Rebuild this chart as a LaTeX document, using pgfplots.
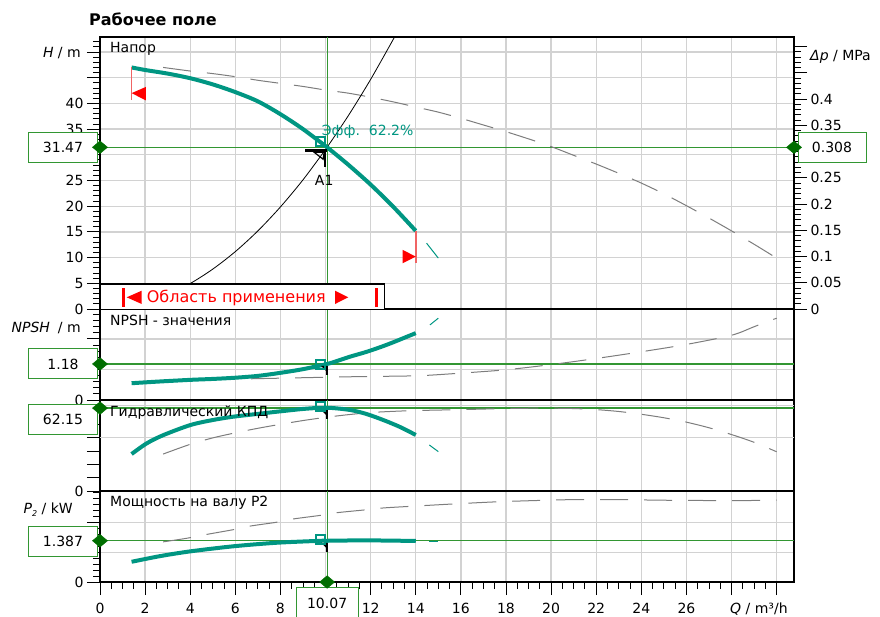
\documentclass[border=0pt]{standalone}
\usepackage{pgfplots}
\pgfplotsset{compat=1.18}
\usepackage{fontspec}
\setmainfont{DejaVu Sans}

\definecolor{teal2}{RGB}{0,150,130}
\definecolor{gridc}{RGB}{210,210,210}
\definecolor{opgreen}{RGB}{50,150,50}
\definecolor{diag}{RGB}{0,110,0}
\definecolor{dgray}{RGB}{125,125,125}
\definecolor{redline}{RGB}{240,100,100}

\newcommand{\fs}[1]{\fontsize{#1}{#1}\selectfont}

\tikzset{
  vbox/.style={draw=opgreen, fill=white, line width=1pt, minimum width=68pt,
    minimum height=30pt, inner sep=0pt, font=\fs{14}},
}

\pgfplotsset{
  panel/.style={
    scale only axis, width=694pt, xmin=0, xmax=30.77, clip=false,
    axis line style={line width=1.2pt},
    tick style={black, line width=0.9pt},
    tick align=outside, major tick length=13pt, minor tick length=7pt,
    xtick={0,2,...,30}, xmajorgrids, ymajorgrids,
    major grid style={line width=1.3pt, gridc},
    ytick pos=left,
    tick label style={font=\fs{14}},
    /pgf/number format/assume math mode=true,
  },
  noxt/.style={xticklabels={}, xtick style={draw=none}},
  tealc/.style={teal2, line width=4pt, smooth},
  tealthin/.style={teal2, line width=1pt},
  dashgray/.style={dgray, line width=1pt, smooth, dash pattern=on 28pt off 16pt},
  opline/.style={opgreen, line width=1.2pt},
  dia/.style={only marks, mark=diamond*, mark size=6.3pt,
    mark options={xscale=1.6, fill=diag, draw=diag}},
  sq/.style={only marks, mark=square, mark size=4.6pt,
    mark options={teal2, line width=2pt}},
}

% small black operating-point marker
\newcommand{\opmark}[2]{%
  \fill[black] ([xshift=-6pt,yshift=-2pt]axis cs:#1,#2) -- ([xshift=0pt,yshift=-2pt]axis cs:#1,#2)
     -- ([xshift=0pt,yshift=-8pt]axis cs:#1,#2) -- cycle;
  \draw[black, line width=1.5pt] ([xshift=0pt,yshift=-2pt]axis cs:#1,#2) -- ([xshift=0pt,yshift=-11pt]axis cs:#1,#2);}

\begin{document}
\begin{tikzpicture}
\useasboundingbox (0,0) rectangle (880pt,-616pt);

% ---------- Напор ----------
\begin{axis}[panel, noxt, at={(100pt,-37pt)}, anchor=north west, height=272pt,
  ymin=0, ymax=52.92, ytick={0,5,...,50}, minor ytick={1,2,...,52},
  yticklabels={0,5,10,15,20,25,,35,40,,}]
\addplot[opline] coordinates {(0,31.47) (30.77,31.47)};
\addplot[opline] coordinates {(10.07,0) (10.07,52.92)};
\addplot[dashgray] coordinates {
  (2.8,47.0) (4,46.3) (5,45.8) (6,45.2) (7,44.5) (8,43.9) (9,43.3) (10,42.6)
  (11,42.0) (12,41.2) (13,40.3) (14,39.3) (15,38.3) (16,37.1) (17,35.8)
  (18,34.5) (19,33.1) (20,31.6) (21,29.9) (22,28.2) (23,26.4) (24,24.5)
  (25,22.4) (26,20.1) (27,17.7) (28,15.2) (29,12.6) (30,9.9)};
\addplot[black, line width=0.8pt, smooth] coordinates {
  (0,0) (1,0.31) (2,1.24) (3,2.79) (4,4.96) (5,7.76) (6,11.17) (7,15.2)
  (8,19.86) (9,25.13) (10,31.03) (10.07,31.47) (11,37.55) (12,44.68) (13.06,52.92)};
\addplot[tealc] coordinates {
  (1.4,47.0) (2,46.5) (3,45.8) (4,44.9) (5,43.7) (6,42.2) (7,40.4) (8,37.9)
  (9,35.0) (10,31.7) (10.07,31.47) (11,28.1) (12,24.2) (13,19.9) (14,15.2)};
\addplot[tealthin] coordinates {(14.48,12.8) (15.0,9.9)};
\addplot[redline, line width=1.8pt] coordinates {(1.4,47.0) (1.4,40.7)};
\addplot[red, fill=red, draw=none] coordinates {(1.4,42.0) (2.03,43.2) (2.03,40.6)} -- cycle;
\addplot[redline, line width=1.8pt] coordinates {(14.0,15.2) (14.0,8.9)};
\addplot[red, fill=red, draw=none] coordinates {(14.0,10.2) (13.42,11.5) (13.42,8.9)} -- cycle;
\addplot[sq] coordinates {(9.78,32.6)};
\draw[black, line width=2.5pt] ([xshift=-22pt,yshift=-3pt]axis cs:10.07,31.47)
   -- ([xshift=0pt,yshift=-3pt]axis cs:10.07,31.47);
\draw[black, line width=2.5pt] ([xshift=-2pt,yshift=-2pt]axis cs:10.07,31.47)
   -- ([xshift=-2pt,yshift=-20pt]axis cs:10.07,31.47);
\draw[black, line width=1.2pt] ([xshift=-13pt,yshift=-5pt]axis cs:10.07,31.47)
   -- ([xshift=-3pt,yshift=-5pt]axis cs:10.07,31.47)
   -- ([xshift=-4pt,yshift=-12pt]axis cs:10.07,31.47) -- cycle;
\node[anchor=west, text=teal2, font=\fs{14}, inner sep=0pt] at (axis cs:9.83,34.4) {Эфф.\ \ 62.2\%};
\node[font=\fs{14}, inner sep=0pt] at (axis cs:9.94,25.0) {A1};
\node[vbox] at ([xshift=-37pt]axis cs:0,31.47) {31.47};
\addplot[dia] coordinates {(0,31.47)};
\end{axis}

% ---------- Δp (right scale) ----------
\begin{axis}[scale only axis, width=694pt, height=272pt, at={(100pt,-37pt)},
  anchor=north west, xmin=0, xmax=30.77, ymin=0, ymax=0.5181, clip=false,
  axis x line=none, axis y line*=right, axis line style={line width=1.2pt},
  tick style={black, line width=0.9pt}, tick align=outside,
  major tick length=13pt, minor tick length=7pt,
  ytick={0,0.05,0.1,0.15,0.2,0.25,0.3,0.35,0.4,0.45,0.5}, minor y tick num=4,
  yticklabels={0,0.05,0.1,0.15,0.2,0.25,,0.35,0.4,,},
  tick label style={font=\fs{14}}]
\node[vbox] at ([xshift=38pt]axis cs:30.77,0.308) {0.308};
\addplot[dia] coordinates {(30.77,0.308)};
\end{axis}

% ---------- NPSH ----------
\begin{axis}[panel, noxt, at={(100pt,-309pt)}, anchor=north west, height=91pt,
  ymin=0, ymax=2.98, ytick={0,1,2},
  minor ytick={0.2,0.4,0.6,0.8,1.2,1.4,1.6,1.8,2.2,2.4,2.6,2.8},
  yticklabels={0,,}]
\addplot[opline] coordinates {(0,1.18) (30.77,1.18)};
\addplot[opline] coordinates {(10.07,0) (10.07,2.98)};
\addplot[dashgray] coordinates {
  (2.8,0.65) (5,0.67) (7,0.70) (9,0.73) (11,0.76) (13,0.78) (14.3,0.80)
  (16,0.88) (18,0.99) (20,1.16) (22,1.36) (24,1.58) (26,1.82) (28,2.12)
  (29,2.40) (30,2.68)};
\addplot[tealc] coordinates {
  (1.4,0.55) (2.5,0.60) (4,0.66) (5,0.69) (6,0.73) (7,0.79) (8,0.89) (9,1.01)
  (10.07,1.18) (10.6,1.30) (11.09,1.42) (11.83,1.58) (12.5,1.75) (13,1.89)
  (13.5,2.04) (14,2.19)};
\addplot[tealthin] coordinates {(14.63,2.46) (15.0,2.68)};
\addplot[sq] coordinates {(9.78,1.15)};
\opmark{10.07}{1.18}
\node[vbox] at ([xshift=-37pt]axis cs:0,1.18) {1.18};
\addplot[dia] coordinates {(0,1.18)};
\end{axis}

% ---------- КПД ----------
\begin{axis}[panel, noxt, at={(100pt,-400pt)}, anchor=north west, height=91pt,
  ymin=0, ymax=68.2, ytick={0,10,...,60}, ymajorgrids=false,
  yticklabels={0,,,,,,}]
\addplot[gridc, line width=1.3pt] coordinates {(0,40) (30.77,40)};
\addplot[gridc, line width=1.3pt] coordinates {(0,64) (30.77,64)};
\addplot[opline] coordinates {(0,62.15) (30.77,62.15)};
\addplot[opline] coordinates {(10.07,0) (10.07,68.2)};
\addplot[dashgray] coordinates {
  (2.8,27.7) (4,35.0) (5,39.8) (6,43.6) (7,47.0) (8,50.0) (9,52.8) (10,55.2)
  (11,57.2) (12,58.8) (13,59.7) (14,60.3) (16,61.0) (18,61.8) (19.7,62.1)
  (21,61.8) (22,61.0) (23,59.6) (24,57.5) (25,54.9) (26,51.6) (27,47.4)
  (28,42.3) (29,36.5) (30,29.4)};
\addplot[tealc] coordinates {
  (1.4,27.7) (2.07,35.7) (2.81,41.9) (4,49.4) (5,53.2) (5.91,55.7) (7,57.8)
  (7.83,59.4) (9,61.5) (9.76,62.3) (10.3,62.2) (11.1,60.7) (11.8,57.8)
  (12.56,53.2) (13.3,48.0) (14.0,42.0)};
\addplot[tealthin] coordinates {(14.6,34.5) (15.0,29.5)};
\addplot[sq] coordinates {(9.78,63.4)};
\opmark{10.07}{62.15}
\node[vbox] at ([xshift=-37pt,yshift=-11pt]axis cs:0,62.15) {62.15};
\addplot[dia] coordinates {(0,62.15)};
\end{axis}

% ---------- Мощность P2 ----------
\begin{axis}[panel, at={(100pt,-491pt)}, anchor=north west, height=91pt,
  ymin=0, ymax=3.06, ytick={0,1,2},
  minor ytick={0.2,0.4,0.6,0.8,1.2,1.4,1.6,1.8,2.2,2.4,2.6,2.8,3.0},
  yticklabels={0,,}, xtick pos=left, minor x tick num=3,
  xticklabels={0,2,4,6,8,,12,14,16,18,20,22,24,26,,},
  xticklabel style={yshift=-5pt}]
\addplot[opline] coordinates {(0,1.387) (30.77,1.387)};
\addplot[opline] coordinates {(10.07,0) (10.07,3.06)};
\addplot[dashgray] coordinates {
  (2.8,1.35) (3.84,1.47) (4.73,1.60) (5.91,1.76) (6.65,1.88) (7.83,2.01)
  (8.57,2.12) (9.76,2.24) (10.5,2.33) (11.68,2.42) (12.56,2.49) (13.9,2.55)
  (15.8,2.63) (17.7,2.70) (19.8,2.75) (21,2.77) (23,2.77) (25,2.75)
  (27,2.74) (28.7,2.74) (30,2.75)};
\addplot[tealc] coordinates {
  (1.4,0.68) (2.66,0.87) (4,1.03) (5.9,1.20) (7.83,1.32) (9.76,1.385)
  (10.07,1.387) (11.8,1.40) (14.0,1.38)};
\addplot[tealthin] coordinates {(14.6,1.37) (15.0,1.37)};
\addplot[sq] coordinates {(9.78,1.42)};
\opmark{10.07}{1.387}
\node[vbox] at ([xshift=-37pt,yshift=-1pt]axis cs:0,1.387) {1.387};
\addplot[dia] coordinates {(0,1.387)};
\node[vbox, minimum width=62pt, minimum height=34pt, anchor=north]
  at ([yshift=-5pt]axis cs:10.07,0) {};
\node[font=\fs{14}] at ([yshift=-21pt]axis cs:10.07,0) {10.07};
\addplot[dia] coordinates {(10.07,0)};
\end{axis}

% ---------- titles and labels ----------
\node[anchor=base west, font=\bfseries\fs{16}, inner sep=0pt] at (89pt,-25.5pt) {Рабочее поле};
\node[anchor=east, font=\fs{14}, inner sep=0pt] at (81pt,-53pt) {\textit{H} / m};
\node[anchor=east, font=\fs{14}, inner sep=0pt] at (81pt,-328pt) {\textit{NPSH}\hspace{8pt}/ m};
\node[anchor=east, font=\fs{14}, inner sep=0pt] at (73pt,-510pt)
  {\textit{P}\raisebox{-3pt}{\fs{8}\textit{2}} / kW};
\node[anchor=west, font=\fs{14}, inner sep=0pt] at (810pt,-57pt) {\textit{Δp} / MPa};
\node[anchor=west, font=\fs{14}, inner sep=0pt] at (730pt,-609pt) {\textit{Q} / m³/h};

\node[anchor=base west, font=\fs{14}, inner sep=0pt] at (110pt,-52pt) {Напор};
\node[anchor=base west, font=\fs{14}, inner sep=0pt] at (110pt,-325pt) {NPSH - значения};
\node[anchor=base west, font=\fs{14}, inner sep=0pt] at (110pt,-416pt) {Гидравлический КПД};
\node[anchor=base west, font=\fs{14}, inner sep=0pt] at (110pt,-506pt) {Мощность на валу P2};

% Область применения
\draw[black, line width=1.2pt, fill=white] (100pt,-284pt) rectangle (384.5pt,-309.5pt);
\draw[red, line width=2.5pt] (123.5pt,-288pt) -- (123.5pt,-306.7pt);
\fill[red] (126.7pt,-297.3pt) -- (141.7pt,-290.7pt) -- (141.7pt,-304pt) -- cycle;
\node[anchor=base west, text=red, font=\fs{16}, inner sep=0pt] at (146.7pt,-302pt) {Область применения};
\fill[red] (348.3pt,-297.3pt) -- (335pt,-290.7pt) -- (335pt,-304pt) -- cycle;
\draw[red, line width=2.5pt] (376.7pt,-288pt) -- (376.7pt,-306.7pt);
\end{tikzpicture}
\end{document}
